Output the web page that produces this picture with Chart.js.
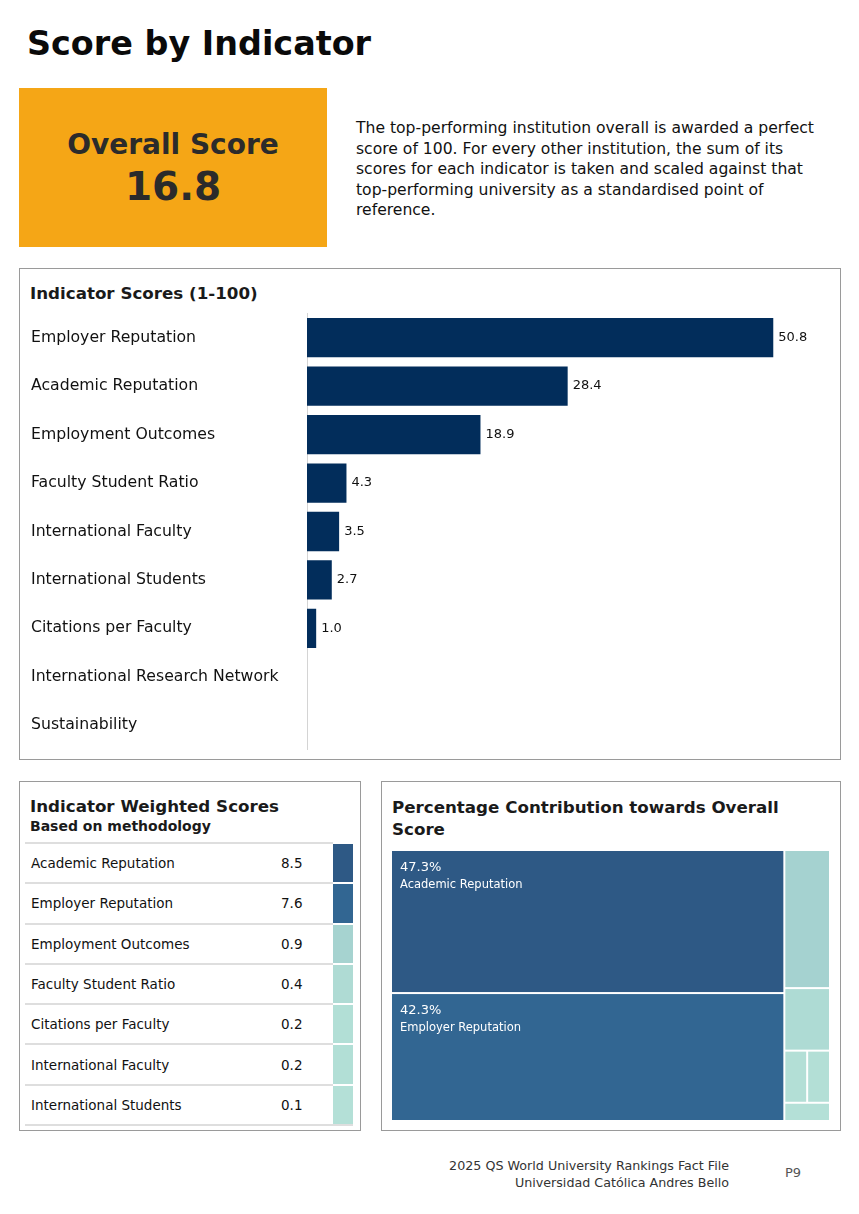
<!DOCTYPE html>
<html>
<head>
<meta charset="utf-8">
<script src="https://cdn.jsdelivr.net/npm/chart.js@4.4.0/dist/chart.umd.min.js"></script>
<style>
  body { margin: 0; width: 859px; height: 1214px; position: relative; background: #fff; overflow: hidden;
         font-family: "DejaVu Sans", Verdana, sans-serif; color: #111; }
  .abs { position: absolute; }
  h1 { position: absolute; left: 27px; top: 24px; margin: 0; font-size: 33.4px; line-height: 40px; font-weight: bold; color: #0a0a0a; }
  .score { left: 19px; top: 88px; width: 308px; height: 159px; background: #f5a616; text-align: center; color: #2b2b2b; font-weight: bold; }
  .score .l1 { position: absolute; left: 0; right: 0; top: 40px; font-size: 28px; line-height: 34px; }
  .score .l2 { position: absolute; left: 0; right: 0; top: 76px; font-size: 39px; line-height: 46px; }
  .intro { left: 356px; top: 118px; width: 480px; font-size: 15.6px; line-height: 20.6px; color: #111; }
  .box { border: 1px solid #9a9a9a; background: #fff; }
  .boxtitle { position: absolute; left: 10px; font-weight: bold; font-size: 16.7px; color: #1a1a1a; }
  table { border-collapse: collapse; }
  td { padding: 0; height: 38.3px; font-size: 13.5px; border-top: 2px solid #dedede; }
  tr:last-child td { border-bottom: 2px solid #dedede; }
  td.name { width: 250px; padding-left: 6px; }
  td.val { width: 52px; }
  td.strip { width: 20px; border-top: 2px solid #fff; border-bottom: none; }
  .foot { right: 130px; top: 1157px; text-align: right; font-size: 12.7px; line-height: 17px; color: #333; }
  .page { left: 785px; top: 1165px; font-size: 13px; color: #555; }
</style>
</head>
<body>

<h1>Score by Indicator</h1>

<div class="abs score">
  <div class="l1">Overall Score</div>
  <div class="l2">16.8</div>
</div>

<div class="abs intro">The top-performing institution overall is awarded a perfect<br>score of 100. For every other institution, the sum of its<br>scores for each indicator is taken and scaled against that<br>top-performing university as a standardised point of<br>reference.</div>

<div class="abs box" style="left:19px;top:268px;width:820px;height:490px;">
  <div class="boxtitle" style="top:14px;">Indicator Scores (1-100)</div>
</div>
<canvas id="barChart" class="abs" width="804" height="455" style="left:31px;top:304px;"></canvas>

<div class="abs box" style="left:19px;top:781px;width:340px;height:348px;">
  <div class="boxtitle" style="top:14px;">Indicator Weighted Scores</div>
  <div class="boxtitle" style="top:36px;font-size:14px;">Based on methodology</div>
  <table id="weighted" class="abs" style="left:5px;top:60px;"></table>
</div>

<div class="abs box" style="left:381px;top:781px;width:458px;height:348px;">
  <div class="boxtitle" style="top:14px;line-height:22px;width:420px;">Percentage Contribution towards Overall Score</div>
</div>
<canvas id="treeChart" class="abs" width="439" height="271" style="left:392px;top:851px;"></canvas>

<div class="abs foot">2025 QS World University Rankings Fact File<br>Universidad Católica Andres Bello</div>
<div class="abs page">P9</div>

<script>
// Indicator scores (1-100)
const indicators = ['Employer Reputation', 'Academic Reputation', 'Employment Outcomes', 'Faculty Student Ratio',
    'International Faculty', 'International Students', 'Citations per Faculty',
    'International Research Network', 'Sustainability'];
const indicatorScores = [50.8, 28.4, 18.9, 4.3, 3.5, 2.7, 1.0, null, null];

// Weighted scores
const weightedNames = ['Academic Reputation', 'Employer Reputation', 'Employment Outcomes', 'Faculty Student Ratio',
    'Citations per Faculty', 'International Faculty', 'International Students'];
const weightedScores = [8.5, 7.6, 0.9, 0.4, 0.2, 0.2, 0.1];

// Percentage contribution (same order as weightedNames)
const sharePercents = [47.3, 42.3, 5.3, 2.4, 1.0, 1.0, 0.7];

// light -> blue -> dark scale used by the table strip and the treemap
const colorStops = [
    { t: 0, c: [182, 226, 216] },
    { t: 0.85, c: [52, 108, 152] },
    { t: 1, c: [46, 89, 133] }
];
function scaleColor(v, max) {
    const t = v / max;
    let a = colorStops[0], b = colorStops[1];
    if (t > colorStops[1].t) { a = colorStops[1]; b = colorStops[2]; }
    const f = (t - a.t) / (b.t - a.t);
    const c = a.c.map((l, k) => Math.round(l + (b.c[k] - l) * f));
    return 'rgb(' + c.join(',') + ')';
}

// table
const table = document.getElementById('weighted');
weightedNames.forEach(function (name, i) {
    const tr = document.createElement('tr');
    tr.innerHTML = '<td class="name">' + name + '</td><td class="val">' + weightedScores[i].toFixed(1) + '</td>' +
        '<td class="strip" style="background:' + scaleColor(weightedScores[i], Math.max(...weightedScores)) + '"></td>';
    table.appendChild(tr);
});

// value labels at the end of each bar
const valueLabels = {
    id: 'valueLabels',
    afterDatasetsDraw(chart) {
        const ctx = chart.ctx;
        ctx.save();
        ctx.font = '13px "DejaVu Sans"';
        ctx.fillStyle = '#111';
        ctx.textBaseline = 'middle';
        chart.getDatasetMeta(0).data.forEach(function (bar, i) {
            if (indicatorScores[i] == null) return;
            ctx.fillText(indicatorScores[i].toFixed(1), bar.x + 5, bar.y);
        });
        ctx.restore();
    }
};

new Chart(document.getElementById('barChart'), {
    type: 'bar',
    data: {
        labels: indicators,
        datasets: [{
            data: indicatorScores,
            backgroundColor: '#022d5b',
            barPercentage: 0.81,
            categoryPercentage: 1
        }]
    },
    options: {
        indexAxis: 'y',
        responsive: false,
        animation: false,
        layout: { padding: { right: 14 } },
        plugins: { legend: { display: false }, tooltip: { enabled: false } },
        scales: {
            x: { min: 0, max: 56, display: false },
            y: {
                grid: { display: false },
                border: { display: true, dash: [1, 2], color: '#d4d4d4' },
                ticks: { crossAlign: 'far', color: '#111', padding: 0, font: { size: 15.7, family: 'DejaVu Sans' } },
                afterFit(scale) { scale.width = 276; }
            }
        }
    },
    plugins: [valueLabels]
});

// treemap: slice-and-dice grouping, sizes come from sharePercents
const treeGroups = { dir: 'h', kids: [{ dir: 'v', kids: [0, 1] }, { dir: 'v', kids: [2, 3, { dir: 'h', kids: [4, 5] }, 6] }] };
function groupSum(node) {
    return typeof node === 'number' ? sharePercents[node] : node.kids.reduce((s, k) => s + groupSum(k), 0);
}
function layoutTree(node, x0, y0, x1, y1, out) {
    if (typeof node === 'number') { out.push({ i: node, x0: x0, y0: y0, x1: x1, y1: y1 }); return; }
    const total = groupSum(node);
    let pos = node.dir === 'h' ? x0 : y0;
    node.kids.forEach(function (k) {
        const share = groupSum(k) / total;
        if (node.dir === 'h') {
            const w = (x1 - x0) * share;
            layoutTree(k, pos, y0, pos + w, y1, out);
            pos += w;
        } else {
            const h = (y1 - y0) * share;
            layoutTree(k, x0, pos, x1, pos + h, out);
            pos += h;
        }
    });
}

const treemapDraw = {
    id: 'treemapDraw',
    afterDraw(chart) {
        const xs = chart.scales.x, ys = chart.scales.y, ctx = chart.ctx;
        const cells = [];
        layoutTree(treeGroups, 0, 0, 100, 100, cells);
        const maxShare = Math.max(...sharePercents);
        ctx.save();
        cells.forEach(function (c) {
            const px0 = xs.getPixelForValue(c.x0), px1 = xs.getPixelForValue(c.x1);
            const py0 = ys.getPixelForValue(c.y0), py1 = ys.getPixelForValue(c.y1);
            ctx.fillStyle = scaleColor(sharePercents[c.i], maxShare);
            ctx.fillRect(px0, py0, px1 - px0 - 2, py1 - py0 - 2);
            if (sharePercents[c.i] > 10) {
                ctx.fillStyle = '#fff';
                ctx.textBaseline = 'top';
                ctx.font = '13px "DejaVu Sans"';
                ctx.fillText(sharePercents[c.i].toFixed(1) + '%', px0 + 8, py0 + 10);
                ctx.font = '11.5px "DejaVu Sans"';
                ctx.fillText(weightedNames[c.i], px0 + 8, py0 + 28);
            }
        });
        ctx.restore();
    }
};

new Chart(document.getElementById('treeChart'), {
    type: 'scatter',
    data: { datasets: [] },
    options: {
        responsive: false,
        animation: false,
        layout: { padding: 0 },
        plugins: { legend: { display: false }, tooltip: { enabled: false } },
        scales: {
            x: { min: 0, max: 100, display: false },
            y: { min: 0, max: 100, reverse: true, display: false }
        }
    },
    plugins: [treemapDraw]
});
</script>
</body>
</html>
